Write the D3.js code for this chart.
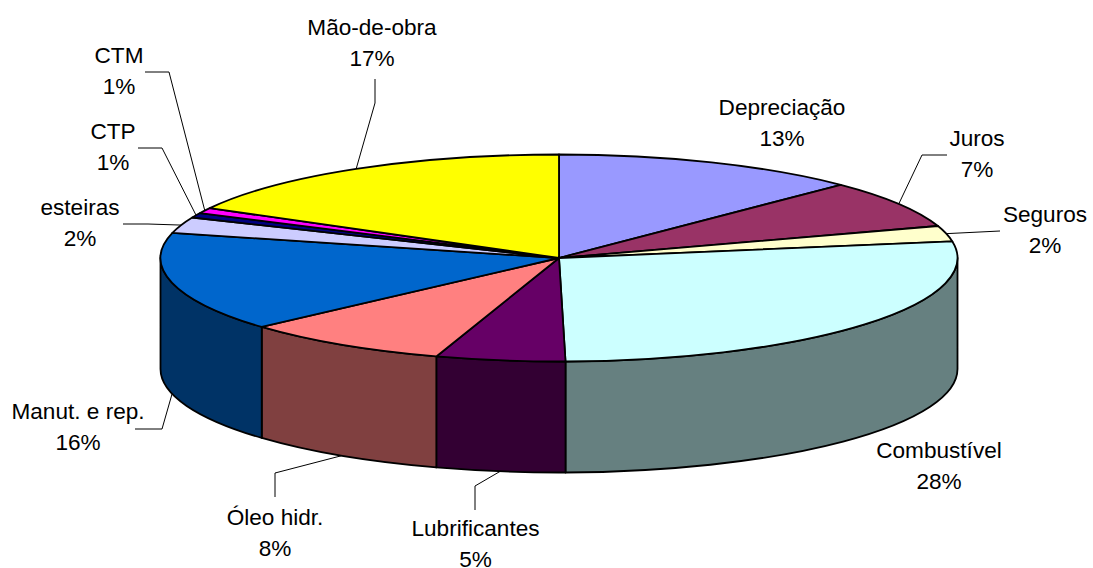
<!DOCTYPE html>
<html>
<head>
<meta charset="utf-8">
<script src="https://cdn.jsdelivr.net/npm/d3@7"></script>
<style>
html,body{margin:0;padding:0;background:#fff;overflow:hidden}
text{font-family:"Liberation Sans",Arial,sans-serif;font-size:22.6px;fill:#000;text-anchor:middle}
</style>
</head>
<body>
<svg id="chart" width="1093" height="568"></svg>
<script>
// Data
const categories = ["Depreciação","Juros","Seguros","Combustível","Lubrificantes","Óleo hidr.","Manut. e rep.","esteiras","CTP","CTM","Mão-de-obra"];
const values = [12.5,7.5,2.44,27.3,5.24,8.42,15.5,2.5,0.75,0.85,17.0];
const percentLabels = ["13%","7%","2%","28%","5%","8%","16%","2%","1%","1%","17%"];
const topColors = ["#9999FF","#993366","#FFFFCC","#CCFFFF","#660066","#FF8080","#0066CC","#CCCCFF","#000080","#FF00FF","#FFFF00"];
const sideColors = ["#4D4D80","#4D1A33","#808066","#668080","#330033","#804040","#003366","#666680","#000040","#800080","#808000"];

// Layout
const cx = 559, cy = 258, rx = 398.5, ry = 103.5, depth = 111;
const labelX = [782,977,1045,939,475.5,275,78,80,113,119,372];
const labelY = [115,146,222,458,535.7,525,419,215,139,63,35];
const lineGap = 31;
const leaderElbow = [null,[922,155],null,null,[475,486],[275,473],[162,429],[148,224],[162,148],[169,72],[375,103]];
const leaderEnd = [null,[947,155],[1000,231],null,[475,510],[275,497],[135,429],[123,224],[138,148],[145,72],[375,79]];

const svg = d3.select("#chart");
const slices = d3.pie().sort(null).value(d => d)(values);
const halfPi = Math.PI / 2, pi = Math.PI;
const pt = (a, dy = 0) => [cx + rx * Math.sin(a), cy + dy - ry * Math.cos(a)];

function topPath(a0, a1) {
  const p0 = pt(a0), p1 = pt(a1);
  return `M${cx},${cy}L${p0}A${rx},${ry} 0 ${a1 - a0 > pi ? 1 : 0} 1 ${p1}Z`;
}
function sidePath(a0, a1) {
  const p0 = pt(a0), p1 = pt(a1), q0 = pt(a0, depth), q1 = pt(a1, depth);
  return `M${p0}A${rx},${ry} 0 0 1 ${p1}L${q1}A${rx},${ry} 0 0 0 ${q0}Z`;
}

// Side walls, only for the front half of the ellipse
const sideData = slices.map((s, i) => ({
  i, a0: Math.max(s.startAngle, halfPi), a1: Math.min(s.endAngle, 3 * halfPi)
})).filter(d => d.a1 > d.a0);

svg.append("g").selectAll("path").data(sideData).join("path")
  .attr("d", d => sidePath(d.a0, d.a1))
  .attr("fill", d => sideColors[d.i])
  .attr("stroke", "#000").attr("stroke-width", 1.8).attr("stroke-linejoin", "round");

svg.append("g").selectAll("path").data(slices).join("path")
  .attr("d", d => topPath(d.startAngle, d.endAngle))
  .attr("fill", (d, i) => topColors[i])
  .attr("stroke", "#000").attr("stroke-width", 1.8).attr("stroke-linejoin", "round");

// Leader lines: they start on the rim at each slice's middle angle
const leaders = slices.map((s, i) => {
  if (!leaderEnd[i]) return null;
  const mid = (s.startAngle + s.endAngle) / 2;
  const onFront = mid > halfPi && mid < 3 * halfPi;
  const pts = [pt(mid, onFront ? depth : 0)];
  if (leaderElbow[i]) pts.push(leaderElbow[i]);
  pts.push(leaderEnd[i]);
  return pts;
}).filter(Boolean);

svg.append("g").selectAll("path").data(leaders).join("path")
  .attr("d", d3.line())
  .attr("fill", "none").attr("stroke", "#000").attr("stroke-width", 1);

// Labels
const labels = svg.append("g").selectAll("g").data(categories).join("g");
labels.append("text").attr("x", (d, i) => labelX[i]).attr("y", (d, i) => labelY[i]).text(d => d);
labels.append("text").attr("x", (d, i) => labelX[i]).attr("y", (d, i) => labelY[i] + lineGap).text((d, i) => percentLabels[i]);
</script>
</body>
</html>
